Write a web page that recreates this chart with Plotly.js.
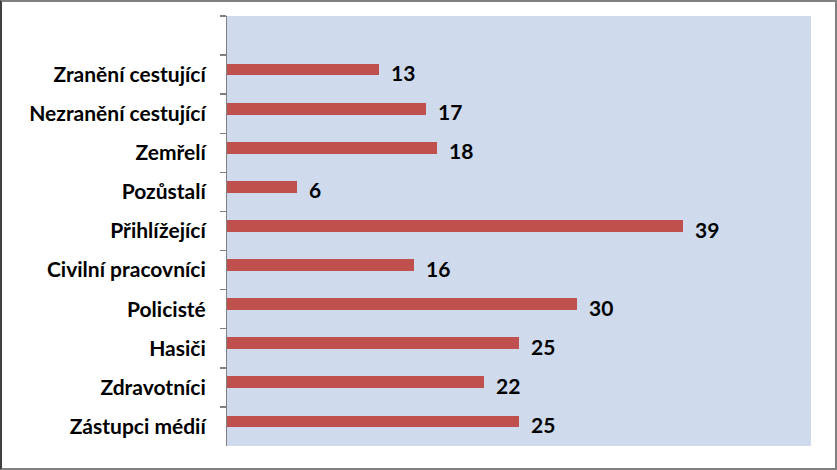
<!DOCTYPE html>
<html>
<head>
<meta charset="utf-8">
<script src="https://cdn.plot.ly/plotly-3.0.1.min.js"></script>
<style>
  html, body { margin: 0; padding: 0; background: #fff; }
  #wrap { position: relative; width: 837px; height: 470px; }
  #chart { position: absolute; left: 0; top: 0; width: 837px; height: 470px; }
  #frame {
    position: absolute; left: 0; top: 0; width: 837px; height: 470px;
    box-sizing: border-box; border: 2px solid #808080; border-left-color: #404040;
    pointer-events: none;
  }
</style>
</head>
<body>
<div id="wrap">
  <div id="chart"></div>
  <div id="frame"></div>
</div>
<script>
  // categories top to bottom; first slot is empty in the original chart
  var categories = [' ', 'Zranění cestující', 'Nezranění cestující', 'Zemřelí', 'Pozůstalí',
    'Přihlížející', 'Civilní pracovníci', 'Policisté', 'Hasiči', 'Zdravotníci', 'Zástupci médií'];
  var values = [null, 13, 17, 18, 6, 39, 16, 30, 25, 22, 25];

  var barColor = '#c0504d';
  var fontFamily = 'Lato, "Open Sans", sans-serif';

  var annotations = [];
  for (var i = 0; i < categories.length; i++) {
    if (values[i] === null) continue;
    annotations.push({
      x: values[i], y: categories[i], xref: 'x', yref: 'y',
      text: '<b>' + values[i] + '</b>',
      showarrow: false, xanchor: 'left', yanchor: 'middle',
      xshift: 10, yshift: 2,
      font: { family: fontFamily, size: 21, color: '#000' }
    });
  }

  Plotly.newPlot('chart', [{
    type: 'bar',
    orientation: 'h',
    y: categories,
    x: values,
    width: 0.3,
    offset: -0.28,
    marker: { color: barColor },
    hoverinfo: 'none'
  }], {
    width: 837,
    height: 470,
    margin: { l: 227, r: 26, t: 16, b: 24 },
    paper_bgcolor: '#ffffff',
    plot_bgcolor: '#cfdbec',
    showlegend: false,
    bargap: 0,
    xaxis: {
      range: [0, 50],
      visible: false,
      showgrid: false,
      zeroline: false
    },
    yaxis: {
      type: 'category',
      autorange: 'reversed',
      tickson: 'boundaries',
      ticks: 'outside',
      ticklen: 6,
      tickwidth: 1.5,
      tickcolor: '#7f7f7f',
      showline: true,
      linecolor: '#7f7f7f',
      linewidth: 1,
      showgrid: false,
      zeroline: false,
      ticklabelstandoff: 16,
      tickfont: { family: fontFamily, size: 21, color: '#000', weight: 'bold' }
    },
    annotations: annotations
  }, { displayModeBar: false, staticPlot: true });
</script>
</body>
</html>
